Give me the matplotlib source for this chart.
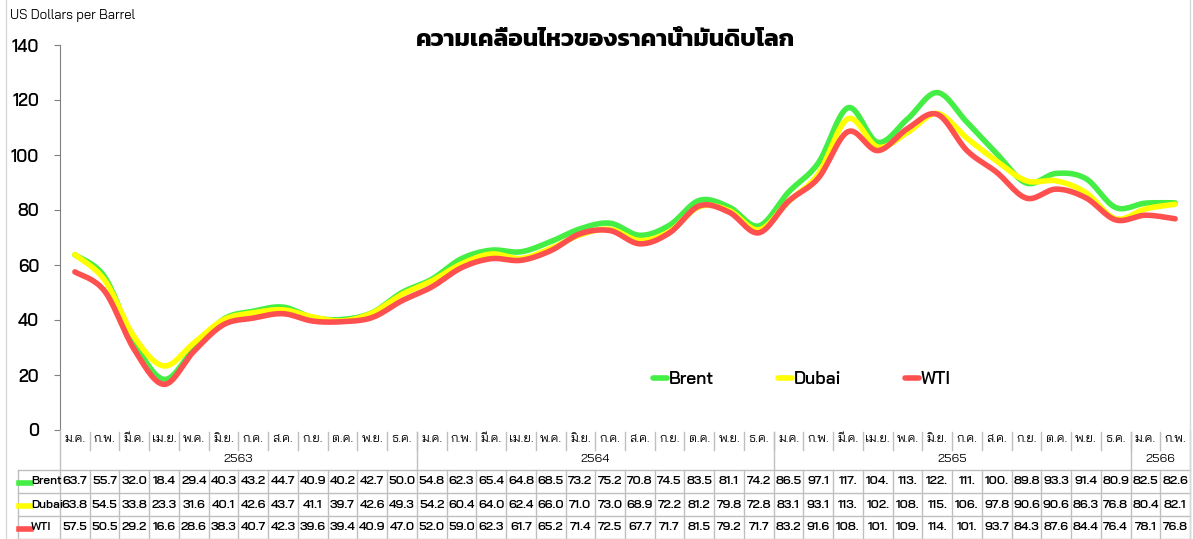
import numpy as np
import matplotlib
matplotlib.use("Agg")
from matplotlib import pyplot as plt
from matplotlib import transforms
from matplotlib.lines import Line2D

plt.rcParams["font.family"] = ["Bai Jamjuree", "DejaVu Sans"]

month_names = ["ม.ค.", "ก.พ.", "มี.ค.", "เม.ย.", "พ.ค.", "มิ.ย.",
               "ก.ค.", "ส.ค.", "ก.ย.", "ต.ค.", "พ.ย.", "ธ.ค."]
months = month_names * 3 + month_names[:2]
years = ["2563", "2564", "2565", "2566"]
year_len = [12, 12, 12, 2]

brent = [63.7, 55.7, 32.0, 18.4, 29.4, 40.3, 43.2, 44.7, 40.9, 40.2, 42.7, 50.0,
         54.8, 62.3, 65.4, 64.8, 68.5, 73.2, 75.2, 70.8, 74.5, 83.5, 81.1, 74.2,
         86.5, 97.1, 117.2, 104.6, 113.1, 122.7, 111.9, 100.5, 89.8, 93.3, 91.4, 80.9,
         82.5, 82.6]
dubai = [63.8, 54.5, 33.8, 23.3, 31.6, 40.1, 42.6, 43.7, 41.1, 39.7, 42.6, 49.3,
         54.2, 60.4, 64.0, 62.4, 66.0, 71.0, 73.0, 68.9, 72.2, 81.2, 79.8, 72.8,
         83.1, 93.1, 113.2, 102.9, 108.2, 115.1, 106.1, 97.8, 90.6, 90.6, 86.3, 76.8,
         80.4, 82.1]
wti = [57.5, 50.5, 29.2, 16.6, 28.6, 38.3, 40.7, 42.3, 39.6, 39.4, 40.9, 47.0,
       52.0, 59.0, 62.3, 61.7, 65.2, 71.4, 72.5, 67.7, 71.7, 81.5, 79.2, 71.7,
       83.2, 91.6, 108.5, 101.6, 109.6, 114.8, 101.6, 93.7, 84.3, 87.6, 84.4, 76.4,
       78.1, 76.8]

series = [("Brent", brent, "#44EE44"), ("Dubai", dubai, "#FFFF00"), ("WTI", wti, "#FF5050")]

W, H = 1193, 539
GRID = "#BFBFBF"


def smooth(y, n=16):
    """Catmull-Rom curve through the points, like Excel's smoothed line."""
    y = np.asarray(y, float)
    x = np.arange(len(y), dtype=float)
    xp = np.concatenate([[x[0]], x, [x[-1]]])
    yp = np.concatenate([[y[0]], y, [y[-1]]])
    xs, ys = [], []
    t = np.linspace(0, 1, n, endpoint=False)
    for i in range(1, len(xp) - 2):
        p0, p1, p2, p3 = yp[i - 1:i + 3]
        q0, q1, q2, q3 = xp[i - 1:i + 3]
        h00 = 2 * t**3 - 3 * t**2 + 1
        h10 = t**3 - 2 * t**2 + t
        h01 = -2 * t**3 + 3 * t**2
        h11 = t**3 - t**2
        ys.append(h00 * p1 + h10 * (p2 - p0) / 2 + h01 * p2 + h11 * (p3 - p1) / 2)
        xs.append(h00 * q1 + h10 * (q2 - q0) / 2 + h01 * q2 + h11 * (q3 - q1) / 2)
    xs.append([x[-1]])
    ys.append([y[-1]])
    return np.concatenate(xs), np.concatenate(ys)


fig = plt.figure(figsize=(W / 100, H / 100), dpi=100)
ax = fig.add_axes([60 / W, 1 - 430 / H, 1130 / W, 385 / H])
n = len(months)
ax.set_xlim(-0.5, n - 0.5)
ax.set_ylim(0, 140)

for name, vals, color in series:
    xs, ys = smooth(vals)
    ax.plot(xs, ys, color=color, lw=4, solid_capstyle="round", label=name)

ax.set_yticks(np.arange(0, 141, 20))
ax.set_xticks([])
ax.tick_params(axis="y", length=4, color="#808080", labelsize=12, pad=11)
for t in ax.get_yticklabels():
    t.set_fontweight("semibold")
for s in ["top", "right", "bottom"]:
    ax.spines[s].set_visible(False)
ax.spines["left"].set_color("#808080")

ax.legend(loc="center left", bbox_to_anchor=(653 / W, 1 - 380 / H), bbox_transform=fig.transFigure,
          ncol=3, frameon=False, handlelength=0.8, handletextpad=0.1, columnspacing=3.7,
          borderpad=0, borderaxespad=0, prop={"size": 12.5, "weight": "semibold"})

# data table under the axes
tr = transforms.blended_transform_factory(ax.transData, fig.transFigure)


def fy(py):
    return 1 - py / H


def vline(x, y0, y1):
    fig.add_artist(Line2D([x, x], [fy(y0), fy(y1)], transform=tr, color=GRID, lw=1))


for i, m in enumerate(months):
    ax.text(i, fy(439), m, transform=tr, ha="center", va="center", fontsize=9)
    if i > 0:
        vline(i - 0.5, 432, 450)

start = 0
for yr, ln in zip(years, year_len):
    ax.text(start + (ln - 1) / 2, fy(459), yr, transform=tr, ha="center", va="center", fontsize=9)
    start += ln
    if start < n:
        vline(start - 0.5, 432, 470)
vline(n - 0.5, 430, 539)
vline(-0.5, 430, 539)

row_y = [470, 493, 516, 539]
for py in row_y:
    fig.add_artist(Line2D([18 / W, 1 - 3 / W], [fy(py), fy(py)], transform=fig.transFigure, color=GRID, lw=1))
fig.add_artist(Line2D([18 / W, 18 / W], [fy(470), fy(539)], transform=fig.transFigure, color=GRID, lw=1))
for i in range(1, n):
    vline(i - 0.5, 470, 539)

for r, (name, vals, color) in enumerate(series):
    cy = (row_y[r] + row_y[r + 1]) / 2
    fig.add_artist(Line2D([19 / W, 31 / W], [fy(cy + 1), fy(cy + 1)], transform=fig.transFigure,
                          color=color, lw=4))
    fig.text(31 / W, fy(cy), name, ha="left", va="center", fontsize=8.5, fontweight="semibold")
    for i, v in enumerate(vals):
        ax.text(i, fy(cy), f"{v:.1f}"[:4], transform=tr, ha="center", va="center", fontsize=9,
                fontweight="semibold")

# chart frame edges
for px in [6, 1190]:
    fig.add_artist(Line2D([px / W, px / W], [0, 1], transform=fig.transFigure, color="#D9D9D9", lw=1))

fig.text(10 / W, fy(16), "US Dollars per Barrel", ha="left", va="center", fontsize=9.5)
fig.text(605 / W, fy(40), "ความเคลื่อนไหวของราคาน้ำมันดิบโลก", ha="center", va="center",
         fontsize=17.5, fontweight="bold", family=["Kanit", "DejaVu Sans"])

fig.savefig("out.png", dpi=100)
